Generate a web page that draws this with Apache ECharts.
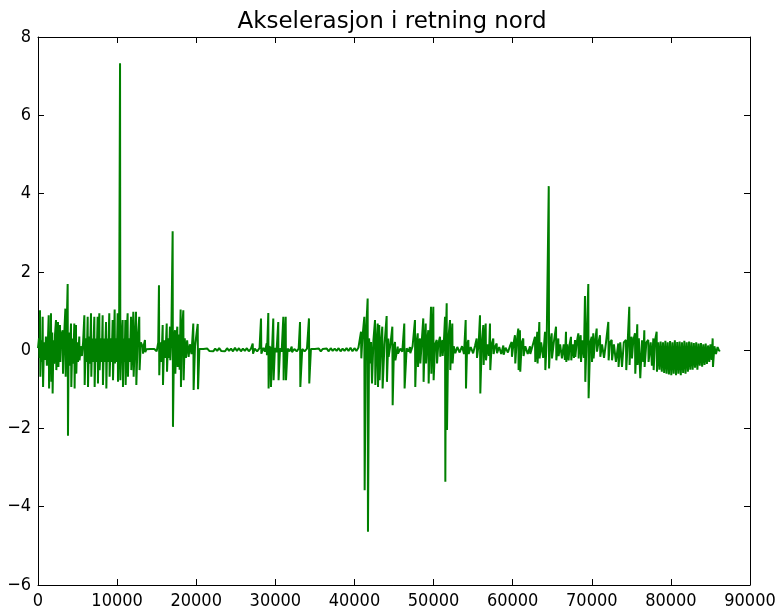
<!DOCTYPE html>
<html>
<head>
<meta charset="utf-8">
<script src="https://cdn.jsdelivr.net/npm/echarts@6/dist/echarts.min.js"></script>
<style>
html,body{margin:0;padding:0;background:#fff;}
#chart{width:784px;height:611px;}
</style>
</head>
<body>
<div id="chart"></div>
<script>
// Tick labels
const xTicks = [0, 10000, 20000, 30000, 40000, 50000, 60000, 70000, 80000, 90000];
const yTicks = [-6, -4, -2, 0, 2, 4, 6, 8];
const chartTitle = 'Akselerasjon i retning nord';

// Signal: [sample index, acceleration]
const burstStart = [
[0,0.05],[120,0.3],[200,-0.2],[253,1.02],[300,-0.68],[420,0.25],[520,-0.3],[590,0.85],[640,-0.94],[760,0.2],[880,-0.25],[1000,0.35],[1120,-0.4],[1240,0.15],[1350,0.89],[1400,-0.98],[1500,0.3],[1580,-0.3],[1640,0.94],[1690,-0.81],[1760,0.2],[1800,0.45],[1850,-1.11],[1950,0.25],[2050,-0.35],[2150,0.4],[2275,0.77],[2320,-0.51],[2420,0.3],[2530,0.72],[2580,-0.43],[2680,0.2],[2780,0.64],[2820,-0.3],[2950,0.4],[3120,0.51],[3160,-0.6],[3300,0.35],[3460,1.06],[3500,-0.68],[3600,0.4],[3750,1.69],[3790,-2.19],[3880,0.45],[4000,-0.4],[4170,0.68],[4210,-0.94],[4350,0.3],[4450,-0.35],[4590,0.68],[4630,-0.98],[4700,0.3],[4800,0.64],[4840,-0.6],[4950,0.2],[5050,-0.3],[5220,0.35],[5250,-0.26],[5400,0.1],[5550,-0.15],[5700,0.2],[5860,0.89],[5900,-0.89],[6050,0.3],[6150,-0.3],[6280,0.85],[6320,-0.94],[6450,0.35],[6550,-0.35],[6700,0.94],[6740,-0.68],[6850,0.3],[6950,-0.3],[7120,0.85],[7160,-0.94],[7300,0.3],[7400,-0.3],[7540,0.85],[7580,-0.85],[7650,0.2],[7750,0.94],[7790,-0.51],[7950,0.3],[8050,-0.3],[8170,0.89],[8210,-0.89],[8350,0.3],[8450,-0.3],[8600,0.72],[8640,-0.98],[8750,0.3],[8850,-0.3],[9010,0.94],[9050,-0.68],[9200,0.3],[9300,-0.3],[9440,0.77],[9480,-0.77],[9600,0.2],[9690,1.04],[9730,-0.34],[9850,0.3],[9950,-0.3],[10070,0.94],[10110,-0.81],[10250,0.3],[10370,7.33],[10410,-0.77],[10550,0.25],[10700,0.77],[10740,-0.94],[10850,0.3],[10950,-0.3],[11040,0.77],[11080,-0.89],[11200,0.3],[11330,0.94],[11370,-0.68],[11500,0.3],[11600,-0.3],[11760,0.85],[11800,-0.51],[11950,0.3],[12050,0.98],[12090,-0.68],[12250,0.3],[12390,0.98],[12430,-0.89],[12600,0.3],[12800,0.85],[12840,-0.51],[13000,0.2],[13230,0.09],[13280,-0.09],[13400,0.15],[13520,0.26],[13560,-0.05]
];
const burstTwo = [
[13700,0.02],[13950,-0.02],[14200,0.03],[14450,-0.02],[14700,0.03],[15000,-0.03],[15200,0.2],[15290,1.66],[15330,-0.64],[15450,0.2],[15600,-0.3],[15760,0.64],[15800,-0.89],[15950,0.25],[16100,-0.2],[16270,0.68],[16310,-0.55],[16450,0.3],[16550,-0.2],[16680,0.6],[16720,-0.26],[16850,0.35],[17020,3.04],[17060,-1.96],[17200,0.3],[17320,0.51],[17360,-0.6],[17480,0.3],[17610,0.6],[17650,-0.43],[17800,0.4],[17900,-0.5],[18030,1.04],[18070,-0.94],[18200,0.5],[18370,1.02],[18410,-0.77],[18550,0.3],[18700,-0.2],[18850,0.25],[19000,0.3],[19040,-0.17],[19200,0.15],[19400,-0.1],[19630,0.68],[19670,-1.02],[19850,0.1],[20190,0.67],[20230,-1.0],[20400,0.03],
[20650,-0.02],[20900,0.03],[21150,-0.02],[21400,0.04],[21650,-0.02],[21900,0.03],[22150,-0.03],[22400,0.04],[22650,-0.02],[22900,0.05],[23150,-0.02],[23400,0.03],[23650,-0.03],[23900,0.05],[24150,-0.02],[24400,0.04],[24650,-0.03],[24900,0.06],[25150,-0.02],[25400,0.05],[25650,-0.03],[25900,0.04],[26150,-0.02],[26400,0.05],[26650,-0.03],[26900,0.03]
];
const burstThree = [
[27000,0.02],[27140,0.17],[27180,-0.09],[27400,0.04],[27700,-0.03],[28000,0.05],[28190,0.81],[28230,-0.09],[28500,0.06],[28700,-0.04],[28900,0.17],[28940,-0.13],[29110,0.95],[29150,-0.98],[29250,0.1],[29410,0.04],[29450,-0.94],[29600,0.1],[29740,0.81],[29780,-0.77],[29950,0.06],[30150,-0.05],[30370,0.72],[30410,-0.77],[30600,0.05],[30800,-0.04],[31010,0.85],[31050,-0.77],[31150,0.1],[31310,0.85],[31350,-0.77],[31550,0.04],[31800,-0.03],[32070,0.09],[32110,-0.05],[32400,0.03],[32700,-0.03],[32950,0.04],[33120,0.72],[33160,-0.94],[33400,0.03],[33700,-0.03],[34000,0.04],[34250,0.81],[34290,-0.85],[34500,0.03],
[34750,-0.02],[35000,0.03],[35250,-0.02],[35500,0.04],[35750,-0.03],[36000,0.03],[36250,-0.02],[36500,0.04],[36750,-0.03],[37000,0.05],[37250,-0.02],[37500,0.04],[37750,-0.02],[38000,0.05],[38250,-0.03],[38500,0.04],[38750,-0.02],[39000,0.05],[39250,-0.02],[39500,0.06],[39750,-0.03],[40000,0.05],[40250,-0.02],[40500,0.06]
];
const burstFour = [
[40700,0.04],[40830,0.47],[40870,-0.21],[41000,0.3],[41250,0.85],[41290,-3.58],[41450,0.4],[41670,1.32],[41710,-4.64],[41850,0.3],[41960,0.34],[42000,-0.34],[42100,0.21],[42180,0.2],[42220,-0.85],[42400,0.25],[42600,0.77],[42640,-0.89],[42800,0.2],[42940,0.68],[42980,-0.94],[43140,0.64],[43180,-0.77],[43350,0.2],[43520,0.6],[43560,-0.98],[43800,0.15],[44070,0.87],[44110,-0.81],[44280,0.3],[44320,-0.17],[44550,0.15],[44790,0.6],[44830,-1.41],[45000,0.1],[45130,0.21],[45170,-0.26],[45470,0.09],[45510,-0.09],[45800,0.04],[46050,-0.04],[46300,0.68],[46340,-0.98],[46600,0.05],[46800,-0.04],[47020,0.08],[47060,-0.08],[47350,0.1],[47650,0.77],[47690,-0.94],[47850,0.2],[48000,0.43],[48040,-0.43],[48150,0.2],[48290,0.3],[48330,-0.34],[48500,0.2],[48700,0.81],[48740,-0.81],[48880,0.2],[49010,0.68],[49050,-0.34],[49200,0.25],[49340,0.51],[49380,-0.85],[49520,0.2],[49680,1.11],[49720,-0.6],[49850,0.3],[49970,1.11],[50010,-0.77],[50200,0.15],[50400,0.26],[50440,-0.34],[50600,0.15],[50810,0.34],[50850,-0.17],[50950,0.1],[51110,0.26],[51150,-0.15],[51300,0.2],[51450,0.85],[51490,-3.36],[51560,0.4],[51660,1.2],[51700,-2.04],[51850,0.25],[52080,0.77],[52120,-0.51],[52250,0.2]
];
const burstFive = [
[52370,0.68],[52410,-0.34],[52550,0.1],[52750,-0.08],[53000,0.08],[53300,-0.06],[53600,0.1],[53850,-0.1],[54060,0.77],[54100,-0.98],[54250,0.15],[54400,0.26],[54440,-0.1],[54700,0.08],[55000,-0.08],[55250,0.12],[55450,0.3],[55490,-0.2],[55700,0.15],[55870,0.89],[55910,-1.11],[56100,0.2],[56290,0.64],[56330,-0.38],[56450,0.2],[56590,0.68],[56630,-0.26],[56850,0.15],[57000,-0.15],[57130,0.68],[57170,-0.51],[57350,0.15],[57550,0.3],[57590,-0.1],[57800,0.1],[57980,0.17],[58020,-0.08],[58300,0.08],[58550,-0.1],[58820,0.12],[58860,-0.12],[59100,0.06],[59400,-0.06],[59650,0.1],[59870,0.21],[59910,-0.17],[60100,0.15],[60290,0.38],[60330,-0.34],[60500,0.2],[60710,0.55],[60750,-0.51],[60920,0.51],[60960,-0.55],[61150,0.2],[61340,0.3],[61380,-0.15],[61600,0.1],[61900,-0.1],[62190,0.1],[62230,-0.1],[62500,0.1],[62820,0.34],[62860,-0.3],[63110,0.47],[63150,-0.34],[63370,0.72],[63410,-0.21],[63600,0.2],[63850,-0.2],[64090,0.47],[64130,-0.51],[64300,0.2],[64560,4.19],[64600,-0.47],[64750,0.2],[64930,0.43],[64970,-0.21],[65200,0.2],[65480,0.6],[65520,-0.26],[65770,0.3],[65810,-0.15],[66000,0.15]
];
const burstSix = [
[66190,0.17],[66230,-0.21],[66450,0.15],[66600,-0.25],[66740,0.47],[66780,-0.3],[66900,0.15],[67030,0.1],[67070,-0.26],[67200,0.15],[67370,0.34],[67410,-0.26],[67600,0.15],[67750,-0.2],[67880,0.26],[67920,-0.17],[68100,0.2],[68300,0.43],[68340,-0.21],[68450,0.2],[68600,0.38],[68640,-0.3],[68800,0.25],[69000,-0.2],[69140,1.38],[69180,-0.81],[69350,0.3],[69560,1.69],[69600,-1.23],[69800,0.2],[69990,0.34],[70030,-0.3],[70190,0.43],[70230,-0.21],[70400,0.2],[70620,0.55],[70660,-0.04],[70850,0.2],[71040,0.38],[71080,-0.17],[71300,0.15],[71550,-0.2],[71800,0.2],[72090,0.72],[72130,-0.26],[72300,0.2],[72520,0.26],[72560,-0.26],[72800,0.15],[73050,-0.3],[73350,0.17],[73390,-0.43],[73600,0.2],[73780,0.2],[73820,-0.43],[74050,0.2],[74320,0.26],[74360,-0.51],[74550,0.25],[74740,1.11],[74780,-0.38],[74900,0.25],[75040,0.34],[75080,-0.21],[75250,0.25],[75460,0.43],[75500,-0.6],[75750,0.66],[75790,-0.38],[75950,0.3],[76090,0.34],[76130,-0.72],[76350,0.25],[76500,-0.3],[76640,0.51],[76680,-0.43],[76900,0.2],[77140,0.26],[77180,-0.3],[77450,0.2],[77600,-0.4],[77780,0.3],[77820,-0.51],[78000,0.25],[78200,0.47],[78240,-0.55],[78400,0.2]
];
const burstTail = [
[78550,-0.5],[78700,0.22],[78850,-0.55],[79000,0.2],[79150,-0.58],[79300,0.24],[79450,-0.6],[79600,0.2],[79750,-0.62],[79900,0.23],[80050,-0.64],[80200,0.2],[80350,-0.6],[80500,0.25],[80650,-0.64],[80800,0.21],[80950,-0.6],[81100,0.22],[81250,-0.64],[81400,0.2],[81550,-0.58],[81700,0.24],[81850,-0.6],[82000,0.2],[82150,-0.55],[82300,0.22],[82450,-0.5],[82600,0.2],[82750,-0.5],[82900,0.18],[83050,-0.45],[83200,0.2],[83350,-0.5],[83500,0.17],[83650,-0.4],[83800,0.18],[83950,-0.42],[84100,0.15],[84250,-0.38],[84400,0.17],[84550,-0.35],[84700,0.12],[84850,-0.3],[85000,0.15],[85150,-0.25],[85280,0.3],[85320,-0.43],[85500,0.1],[85700,-0.1],[85900,0.08],[86100,-0.02],[86200,0.0]
];

const signal = [].concat(burstStart, burstTwo, burstThree, burstFour, burstFive, burstSix, burstTail);

const FONT = "'DejaVu Sans Condensed','DejaVu Sans',sans-serif";
const TITLE_FONT = "'DejaVu Sans',sans-serif";
const minus = v => String(v).replace('-', '\u2212');
const axisBase = {
  type: 'value',
  axisLine: { show: true, onZero: false, lineStyle: { color: '#000', width: 1 } },
  axisTick: { show: true, inside: true, length: 6, lineStyle: { color: '#000', width: 1 } },
  splitLine: { show: false }
};
const chart = echarts.init(document.getElementById('chart'), null, { renderer: 'canvas' });
chart.setOption({
  animation: false,
  backgroundColor: '#fff',
  title: {
    text: chartTitle, left: 'center', top: 6,
    textStyle: { fontFamily: TITLE_FONT, fontSize: 23, fontWeight: 'normal', color: '#000' }
  },
  grid: { left: 38, right: 34, top: 37, bottom: 26, containLabel: false },
  xAxis: [
    Object.assign({}, axisBase, { position: 'bottom', min: xTicks[0], max: xTicks[xTicks.length - 1], interval: xTicks[1] - xTicks[0],
      axisLabel: { color: '#000', fontFamily: FONT, fontSize: 18, margin: 7, formatter: minus } }),
    Object.assign({}, axisBase, { position: 'top', min: xTicks[0], max: xTicks[xTicks.length - 1], interval: xTicks[1] - xTicks[0],
      axisLabel: { show: false } })
  ],
  yAxis: [
    Object.assign({}, axisBase, { position: 'left', min: yTicks[0], max: yTicks[yTicks.length - 1], interval: yTicks[1] - yTicks[0],
      axisLabel: { color: '#000', fontFamily: FONT, fontSize: 18, margin: 7, formatter: minus } }),
    Object.assign({}, axisBase, { position: 'right', min: yTicks[0], max: yTicks[yTicks.length - 1], interval: yTicks[1] - yTicks[0],
      axisLabel: { show: false } })
  ],
  series: [{
    type: 'line',
    data: signal,
    showSymbol: false,
    symbol: 'none',
    sampling: false,
    lineStyle: { color: '#008000', width: 2 },
    itemStyle: { color: '#008000' },
    silent: true
  }]
});
</script>
</body>
</html>
